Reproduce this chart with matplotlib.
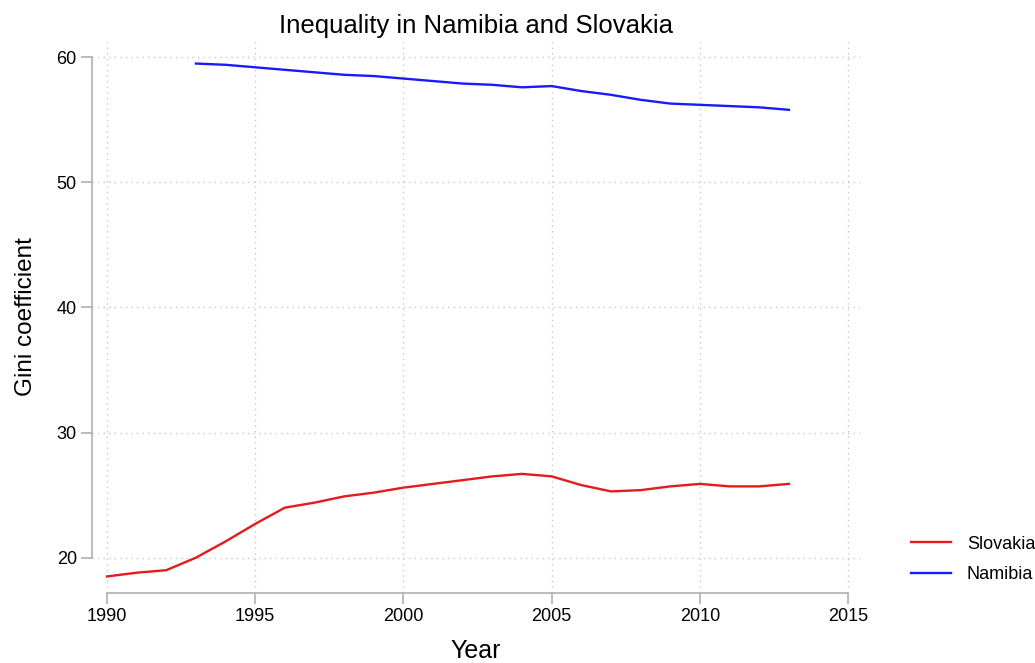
import matplotlib
matplotlib.use("Agg")
import matplotlib.pyplot as plt

# values
years_namibia = list(range(1993, 2014))
gini_namibia = [59.5, 59.4, 59.2, 59.0, 58.8, 58.6, 58.5, 58.3, 58.1, 57.9, 57.8,
                57.6, 57.7, 57.3, 57.0, 56.6, 56.3, 56.2, 56.1, 56.0, 55.8]

years_slovakia = list(range(1990, 2014))
gini_slovakia = [18.5, 18.8, 19.0, 20.0, 21.3, 22.7, 24.0, 24.4, 24.9, 25.2, 25.6,
                 25.9, 26.2, 26.5, 26.7, 26.5, 25.8, 25.3, 25.4, 25.7, 25.9, 25.7,
                 25.7, 25.9]

x_ticks = [1990, 1995, 2000, 2005, 2010, 2015]
y_ticks = [20, 30, 40, 50, 60]

plt.rcParams['font.family'] = ['Liberation Sans', 'DejaVu Sans']

fig = plt.figure(figsize=(10.35, 6.63), dpi=100)
ax = fig.add_axes([0.089, 0.106, 0.742, 0.834])

ax.plot(years_slovakia, gini_slovakia, color='#e41a1c', lw=1.7, label='Slovakia')
ax.plot(years_namibia, gini_namibia, color='#1a1aff', lw=1.7, label='Namibia')

ax.set_xlim(1989.5, 2015.4)
ax.set_ylim(17.2, 61.4)
ax.set_xticks(x_ticks)
ax.set_yticks(y_ticks)

# stata-like axes: spines only over the tick range
for side in ['top', 'right']:
    ax.spines[side].set_visible(False)
ax.spines['left'].set_bounds(20, 60)
ax.spines['bottom'].set_bounds(1990, 2015)
for side in ['left', 'bottom']:
    ax.spines[side].set_color('#b0b0b0')
    ax.spines[side].set_linewidth(1.2)
ax.tick_params(axis='both', colors='#b0b0b0', labelcolor='black',
               labelsize=13, length=8, width=1.2, pad=3)

ax.grid(True, color='#c8c8c8', linestyle=(0, (1, 3)), linewidth=1)

ax.set_title('Inequality in Namibia and Slovakia', fontsize=18.5, pad=5)
ax.set_xlabel('Year', fontsize=18, labelpad=10)
ax.set_ylabel('Gini coefficient', fontsize=17.5, labelpad=14)

ax.legend(loc='center left', bbox_to_anchor=(1.045, 0.06), frameon=False,
          fontsize=13, handlelength=2.2, handletextpad=0.9, labelspacing=0.75)

fig.savefig('out.png', dpi=100)
